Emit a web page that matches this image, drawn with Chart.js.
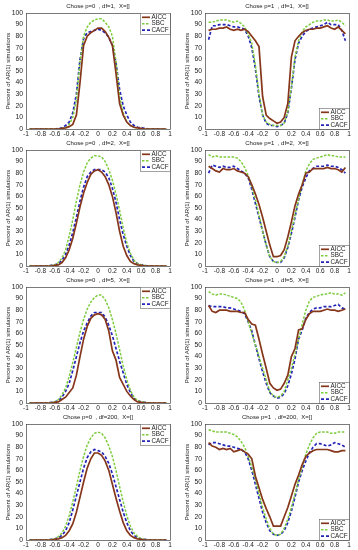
<!DOCTYPE html>
<html>
<head>
<meta charset="utf-8">
<script src="https://cdn.jsdelivr.net/npm/chart.js@4.4.1/dist/chart.umd.min.js"></script>
<style>
  body { margin: 0; background: #fff; }
  #wrap { position: relative; width: 358px; height: 550px; }
  #wrap canvas { position: absolute; }
</style>
</head>
<body>
<div id="wrap"></div>
<script>
// x values (AR(1) coefficient)
const rho = [-0.95, -0.9, -0.85, -0.8, -0.75, -0.7, -0.65, -0.6, -0.55, -0.5,
  -0.45, -0.4, -0.35, -0.3, -0.25, -0.2, -0.15, -0.1, -0.05,
  0,
  0.05, 0.1, 0.15, 0.2, 0.25, 0.3, 0.35, 0.4, 0.45,
  0.5, 0.55, 0.6, 0.65, 0.7, 0.75, 0.8, 0.85, 0.9, 0.95];

const xTicks = [-1, -0.8, -0.6, -0.4, -0.2, 0, 0.2, 0.4, 0.6, 0.8, 1];
const yTicks = [0, 10, 20, 30, 40, 50, 60, 70, 80, 90, 100];
const seriesNames = ['AICC', 'SBC', 'CACF'];

// p=0, df=1
const aicc_p0_df1 = [0, 0, 0, 0, 0, 0, 0, 0, 0, 0.5,
  1, 2, 4, 12, 40, 72, 80, 83, 85,
  87,
  87, 84, 79, 72, 48, 22, 12, 6, 3,
  1.5, 1, 0.5, 0, 0, 0, 0, 0, 0, 0];
const sbc_p0_df1 = [0, 0, 0, 0, 0, 0, 0, 0, 0, 0.5,
  1, 4, 10, 25, 58, 80, 88, 92, 94,
  95,
  95, 92, 88, 80, 58, 28, 14, 6, 3,
  1.5, 0.5, 0, 0, 0, 0, 0, 0, 0, 0];
const cacf_p0_df1 = [0, 0, 0, 0, 0, 0, 0, 0, 0.5, 1,
  3, 6, 14, 30, 60, 78, 83, 84, 85,
  86,
  85, 83, 79, 72, 57, 34, 20, 12, 6,
  3, 1.5, 1, 0.5, 0, 0, 0, 0, 0, 0];

// p=1, df=1
const aicc_p1_df1 = [85, 86, 86, 87, 87, 88, 86, 85, 86, 85,
  86, 84, 80, 76, 71, 28, 12, 9, 7,
  5,
  6, 10, 22, 62, 76, 80, 83, 85, 86,
  86, 87, 87, 88, 89, 87, 86, 88, 85, 82];
const sbc_p1_df1 = [92, 92, 93, 94, 94, 94, 93, 92, 93, 91,
  88, 82, 74, 55, 30, 12, 6, 4, 3,
  3,
  3, 5, 15, 36, 62, 76, 84, 88, 90,
  92, 93, 93, 94, 94, 93, 93, 94, 92, 89];
const cacf_p1_df1 = [77, 89, 89, 90, 90, 90, 89, 88, 88, 87,
  86, 80, 70, 52, 28, 12, 5, 3, 3,
  2,
  3, 5, 14, 35, 60, 74, 80, 84, 86,
  87, 88, 89, 90, 92, 90, 90, 90, 85, 76];

// p=0, df=2
const aicc_p0_df2 = [0, 0, 0, 0, 0, 0, 0, 0.5, 1, 3,
  7, 14, 24, 37, 51, 63, 72, 79, 82,
  83,
  81, 77, 70, 60, 46, 30, 17, 9, 4,
  2, 1, 0.5, 0, 0, 0, 0, 0, 0, 0];
const sbc_p0_df2 = [0, 0, 0, 0, 0, 0, 0.5, 1, 3, 7,
  14, 26, 40, 56, 70, 81, 89, 93, 95,
  95,
  94, 90, 83, 74, 62, 48, 33, 20, 11,
  5, 2, 1, 0.5, 0, 0, 0, 0, 0, 0];
const cacf_p0_df2 = [0, 0, 0, 0, 0, 0, 0.5, 1, 2, 5,
  10, 18, 29, 42, 56, 68, 77, 81, 83,
  83,
  83, 81, 76, 67, 55, 40, 27, 17, 9,
  4, 2, 1, 0.5, 0, 0, 0, 0, 0, 0];

// p=1, df=2
const aicc_p1_df2 = [86, 84, 82, 81, 84, 83, 83, 84, 82, 81,
  80, 77, 70, 62, 53, 42, 30, 18, 8,
  8,
  9, 14, 25, 38, 52, 62, 70, 80, 81,
  84, 84, 84, 84, 85, 84, 84, 83, 81, 85];
const sbc_p1_df2 = [96, 94, 95, 94, 94, 94, 94, 94, 93, 90,
  85, 78, 68, 57, 44, 30, 18, 8, 4,
  3,
  4, 8, 17, 30, 44, 58, 70, 82, 88,
  92, 93, 94, 95, 96, 95, 95, 94, 94, 94];
const cacf_p1_df2 = [80, 87, 86, 85, 86, 85, 85, 86, 84, 82,
  80, 76, 66, 54, 42, 30, 18, 8, 4,
  3,
  3, 7, 16, 28, 42, 57, 68, 76, 82,
  84, 86, 86, 86, 87, 86, 86, 85, 83, 80];

// p=0, df=5
const aicc_p0_df5 = [0, 0, 0, 0, 0, 0, 0, 0.5, 1, 3,
  5, 9, 13, 24, 40, 55, 66, 73, 76,
  77,
  76, 72, 62, 45, 37, 22, 16, 10, 6,
  3, 1, 0.5, 0, 0, 0, 0, 0, 0, 0];
const sbc_p0_df5 = [0, 0, 0, 0, 0, 0, 0.5, 1, 3, 7,
  13, 23, 35, 48, 61, 72, 81, 87, 91,
  93,
  93, 89, 82, 72, 60, 46, 32, 20, 11,
  5, 2, 1, 0.5, 0, 0, 0, 0, 0, 0];
const cacf_p0_df5 = [0, 0, 0, 0, 0, 0, 0.5, 1, 2, 5,
  10, 17, 28, 40, 52, 62, 69, 75, 78,
  78,
  78, 74, 67, 58, 47, 36, 26, 16, 9,
  4, 2, 1, 0.5, 0, 0, 0, 0, 0, 0];

// p=1, df=5
const aicc_p1_df5 = [84, 79, 78, 80, 80, 80, 79, 79, 79, 78,
  78, 72, 68, 67, 55, 42, 30, 17, 13,
  11,
  12, 17, 24, 40, 47, 63, 64, 72, 77,
  79, 79, 79, 80, 81, 80, 80, 79, 80, 81];
const sbc_p1_df5 = [96, 94, 93, 94, 94, 93, 92, 91, 90, 87,
  80, 70, 60, 50, 40, 30, 20, 10, 6,
  5,
  6, 10, 20, 30, 42, 55, 68, 80, 88,
  91, 92, 93, 94, 94, 95, 94, 94, 93, 95];
const cacf_p1_df5 = [84, 83, 83, 83, 83, 82, 82, 81, 80, 79,
  77, 70, 62, 50, 38, 27, 17, 9, 6,
  4,
  5, 8, 15, 25, 38, 55, 63, 73, 78,
  81, 82, 82, 83, 83, 83, 84, 85, 82, 81];

// p=0, df=200
const aicc_p0_df200 = [0, 0, 0, 0, 0, 0, 0, 0.5, 1, 2,
  4, 8, 14, 24, 37, 50, 62, 70, 75,
  75,
  73, 68, 60, 48, 36, 25, 15, 8, 4,
  2, 1, 0.5, 0, 0, 0, 0, 0, 0, 0];
const sbc_p0_df200 = [0, 0, 0, 0, 0, 0, 0.5, 1, 3, 6,
  12, 21, 33, 46, 60, 72, 82, 88, 92,
  93,
  92, 88, 81, 72, 60, 46, 33, 21, 12,
  6, 3, 1, 0.5, 0, 0, 0, 0, 0, 0];
const cacf_p0_df200 = [0, 0, 0, 0, 0, 0, 0.5, 1, 2, 4,
  8, 15, 26, 38, 50, 62, 71, 76, 78,
  77,
  76, 72, 66, 57, 46, 35, 24, 15, 8,
  4, 2, 1, 0.5, 0, 0, 0, 0, 0, 0];

// p=1, df=200
const aicc_p1_df200 = [84, 81, 80, 78, 79, 78, 79, 76, 77, 78,
  76, 74, 70, 55, 45, 35, 27, 20, 12,
  12,
  12, 20, 28, 38, 48, 56, 65, 72, 75,
  77, 78, 78, 78, 78, 77, 76, 76, 77, 77];
const sbc_p1_df200 = [95, 94, 93, 93, 93, 93, 92, 91, 89, 85,
  80, 72, 63, 52, 40, 28, 18, 10, 5,
  4,
  5, 10, 18, 28, 40, 52, 63, 74, 82,
  88, 92, 93, 93, 93, 92, 92, 93, 93, 93];
const cacf_p1_df200 = [82, 84, 84, 83, 82, 81, 81, 80, 79, 78,
  76, 70, 60, 48, 36, 24, 15, 8, 5,
  4,
  5, 8, 15, 25, 37, 50, 60, 68, 75,
  80, 83, 83, 82, 81, 82, 84, 83, 82, 80];

const panels = [
  { title: 'Chose p=0  , df=1,  X=[]', top: true, data: [aicc_p0_df1, sbc_p0_df1, cacf_p0_df1] },
  { title: 'Chose p=1  , df=1,  X=[]', top: false, data: [aicc_p1_df1, sbc_p1_df1, cacf_p1_df1] },
  { title: 'Chose p=0  , df=2,  X=[]', top: true, data: [aicc_p0_df2, sbc_p0_df2, cacf_p0_df2] },
  { title: 'Chose p=1  , df=2,  X=[]', top: false, data: [aicc_p1_df2, sbc_p1_df2, cacf_p1_df2] },
  { title: 'Chose p=0  , df=5,  X=[]', top: true, data: [aicc_p0_df5, sbc_p0_df5, cacf_p0_df5] },
  { title: 'Chose p=1  , df=5,  X=[]', top: false, data: [aicc_p1_df5, sbc_p1_df5, cacf_p1_df5] },
  { title: 'Chose p=0  , df=200,  X=[]', top: true, data: [aicc_p0_df200, sbc_p0_df200, cacf_p0_df200] },
  { title: 'Chose p=1  , df=200,  X=[]', top: false, data: [aicc_p1_df200, sbc_p1_df200, cacf_p1_df200] }
];

const FONT = '"Liberation Sans", Arial, sans-serif';
const styles = [
  { borderColor: '#86361a', borderWidth: 1.7, borderDash: [] },
  { borderColor: '#7ccc3c', borderWidth: 1.5, borderDash: [2.5, 1.5] },
  { borderColor: '#2424b8', borderWidth: 1.7, borderDash: [3, 2] }
];

// box around the axes, panel title and a small legend inside the plot
const framePlugin = {
  id: 'frame',
  afterDraw(chart, args, opts) {
    const ctx = chart.ctx, a = chart.chartArea;
    ctx.save();
    ctx.strokeStyle = '#444';
    ctx.lineWidth = 0.7;
    ctx.strokeRect(Math.round(a.left) + 0.5, Math.round(a.top) + 0.5, Math.round(a.width), Math.round(a.height));

    ctx.fillStyle = '#222';
    ctx.font = '6px ' + FONT;
    ctx.textAlign = 'center';
    ctx.textBaseline = 'middle';
    ctx.fillText(opts.title, (a.left + a.right) / 2, 6);

    const w = 30, h = 21;
    const x0 = Math.round(a.right) - w, y0 = opts.top ? Math.round(a.top) : Math.round(a.bottom) - h;
    ctx.fillStyle = '#fff';
    ctx.fillRect(x0, y0, w, h);
    ctx.strokeStyle = '#666';
    ctx.lineWidth = 0.6;
    ctx.strokeRect(x0 + 0.5, y0 + 0.5, w, h);
    ctx.font = '6.3px ' + FONT;
    ctx.textAlign = 'left';
    chart.data.datasets.forEach((ds, i) => {
      const y = y0 + 4.3 + i * 6.4;
      ctx.strokeStyle = ds.borderColor;
      ctx.lineWidth = ds.borderWidth;
      ctx.setLineDash(ds.borderDash);
      ctx.beginPath();
      ctx.moveTo(x0 + 2, y);
      ctx.lineTo(x0 + 10, y);
      ctx.stroke();
      ctx.setLineDash([]);
      ctx.fillStyle = '#222';
      ctx.fillText(ds.label, x0 + 11.5, y);
    });
    ctx.restore();
  }
};

const wrap = document.getElementById('wrap');
panels.forEach((p, i) => {
  const cv = document.createElement('canvas');
  cv.width = 179;
  cv.height = 137;
  cv.style.left = (i % 2) * 179 + 'px';
  cv.style.top = Math.floor(i / 2) * 137 + 'px';
  wrap.appendChild(cv);

  new Chart(cv, {
    type: 'line',
    data: {
      datasets: p.data.map((vals, k) => ({
        label: seriesNames[k],
        data: rho.map((x, j) => ({ x: x, y: vals[j] })),
        borderColor: styles[k].borderColor,
        borderWidth: styles[k].borderWidth,
        borderDash: styles[k].borderDash,
        pointRadius: 0,
        tension: 0,
        fill: false
      }))
    },
    options: {
      responsive: false,
      animation: false,
      layout: { padding: { top: 13, right: 9, left: 0, bottom: 0 } },
      plugins: {
        legend: { display: false },
        title: { display: false },
        tooltip: { enabled: false },
        frame: { title: p.title, top: p.top }
      },
      scales: {
        x: {
          type: 'linear', min: -1, max: 1,
          afterBuildTicks: s => { s.ticks = xTicks.map(v => ({ value: v })); },
          afterFit: s => { s.height = 8; },
          grid: { display: false, drawTicks: false },
          border: { display: false },
          ticks: {
            autoSkip: false, maxRotation: 0, padding: 1.5,
            color: '#222', font: { size: 6.5, family: FONT },
            callback: v => String(Math.round(v * 10) / 10)
          }
        },
        y: {
          min: 0, max: 100,
          afterBuildTicks: s => { s.ticks = yTicks.map(v => ({ value: v })); },
          afterFit: s => { s.width = 26; },
          grid: { display: false, drawTicks: false },
          border: { display: false },
          ticks: { padding: 3, color: '#222', font: { size: 6.8, family: FONT } },
          title: {
            display: true, text: 'Percent of AR(1) simulations',
            color: '#222', font: { size: 6, family: FONT },
            padding: { top: 4.5, bottom: 0 }
          }
        }
      }
    },
    plugins: [framePlugin]
  });
});
</script>
</body>
</html>
